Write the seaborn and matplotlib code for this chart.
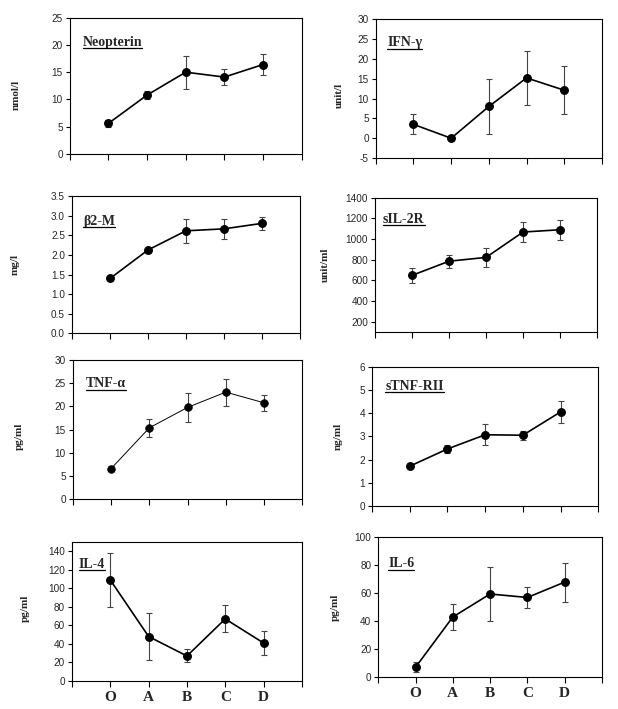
import numpy as np
import pandas as pd
import matplotlib
matplotlib.use("Agg")
import matplotlib.pyplot as plt
import seaborn as sns
from matplotlib.lines import Line2D

# Data (means and error bars)
groups = ['O', 'A', 'B', 'C', 'D']

neopterin = [5.6, 10.8, 15.0, 14.1, 16.4]
neopterin_err = [0.6, 0.7, 3.0, 1.4, 2.0]

ifn = [3.5, 0.0, 8.0, 15.2, 12.1]
ifn_err = [2.5, 0.0, 7.0, 6.8, 6.0]

b2m = [1.40, 2.13, 2.62, 2.67, 2.81]
b2m_err = [0.05, 0.08, 0.30, 0.26, 0.17]

sil2r = [648, 785, 822, 1068, 1090]
sil2r_err = [70, 62, 95, 96, 98]

tnfa = [6.6, 15.4, 19.8, 23.1, 20.8]
tnfa_err = [0.6, 1.9, 3.1, 2.9, 1.7]

stnfr = [1.72, 2.46, 3.07, 3.05, 4.05]
stnfr_err = [0.05, 0.18, 0.45, 0.20, 0.47]

il4 = [109, 48, 27, 67, 41]
il4_err = [29, 25, 7, 14.5, 13]

il6 = [7, 43, 59.5, 57, 68]
il6_err = [3.5, 9.5, 19.5, 7.5, 14]

sns.set_style("white")

fig = plt.figure(figsize=(6.18, 7.09), dpi=100)

# name, unit, values, errors, ylim, yticks, tick format, axes rect, label x/y, title x/y, line width
panels = [
    ('Neopterin', 'nmol/l', neopterin, neopterin_err, (0, 25), np.arange(0, 26, 5), '%d',
     [0.113, 0.783, 0.375, 0.192], (-0.23, 0.43), (0.055, 0.82), 1.2),
    ('IFN-γ', 'unit/l', ifn, ifn_err, (-5, 30), np.arange(-5, 31, 5), '%d',
     [0.608, 0.777, 0.366, 0.196], (-0.16, 0.45), (0.05, 0.83), 1.2),
    ('β2-M', 'mg/l', b2m, b2m_err, (0, 3.5), np.arange(0, 3.6, 0.5), '%.1f',
     [0.1165, 0.530, 0.369, 0.193], (-0.25, 0.5), (0.048, 0.82), 1.2),
    ('sIL-2R', 'unit/ml', sil2r, sil2r_err, (100, 1400), np.arange(200, 1401, 200), '%d',
     [0.607, 0.532, 0.359, 0.189], (-0.225, 0.5), (0.036, 0.84), 1.2),
    ('TNF-α', 'pg/ml', tnfa, tnfa_err, (0, 30), np.arange(0, 31, 5), '%d',
     [0.118, 0.296, 0.371, 0.196], (-0.236, 0.45), (0.057, 0.83), 0.7),
    ('sTNF-RII', 'ng/ml', stnfr, stnfr_err, (0, 6), np.arange(0, 7, 1), '%d',
     [0.602, 0.286, 0.366, 0.197], (-0.15, 0.5), (0.058, 0.86), 1.2),
    ('IL-4', 'pg/ml', il4, il4_err, (0, 150), np.arange(0, 141, 20), '%d',
     [0.1165, 0.0395, 0.372, 0.196], (-0.205, 0.52), (0.03, 0.84), 1.2),
    ('IL-6', 'pg/ml', il6, il6_err, (0, 100), np.arange(0, 101, 20), '%d',
     [0.612, 0.045, 0.362, 0.197], (-0.19, 0.5), (0.045, 0.81), 1.2),
]

titles = []
for i, (name, unit, vals, errs, ylim, yticks, fmt, rect, lab, tpos, lw) in enumerate(panels):
    ax = fig.add_axes(rect)
    df = pd.DataFrame({'group': groups, 'value': vals, 'err': errs})
    ax.errorbar(np.arange(len(groups)), df['value'], yerr=df['err'], fmt='none',
                ecolor='#444444', elinewidth=0.8, capsize=2.5, capthick=0.8, zorder=1)
    sns.pointplot(data=df, x='group', y='value', color='black', errorbar=None,
                  markers='o', markersize=5.5, linewidth=lw, ax=ax, zorder=3)

    ax.set_xlim(-1, 5)
    ax.set_ylim(*ylim)
    ax.set_yticks(yticks)
    ax.set_yticklabels([fmt % t for t in yticks], family='Liberation Sans', fontsize=7.2)
    ax.set_xticks(range(-1, 6))
    if i >= 6:
        ax.set_xticklabels([''] + groups + [''], family='Liberation Serif',
                           fontweight='bold', fontsize=11)
    else:
        ax.set_xticklabels([])
    ax.set_xlabel('')
    ax.set_ylabel(unit, family='Liberation Serif', fontweight='bold', fontsize=8)
    ax.yaxis.set_label_coords(*lab)
    ax.yaxis.label.set_verticalalignment('center')

    for s in ax.spines.values():
        s.set_visible(True)
        s.set_color('black')
        s.set_linewidth(0.8)
    ax.tick_params(axis='both', direction='out', length=3, width=0.8, color='black',
                   left=True, bottom=True, pad=2)
    ax.tick_params(axis='x', length=4, pad=3)

    t = ax.text(tpos[0], tpos[1], name, transform=ax.transAxes, family='Liberation Serif',
                fontweight='bold', fontsize=10, va='center', ha='left')
    titles.append(t)

# underline the panel titles
fig.canvas.draw()
renderer = fig.canvas.get_renderer()
inv = fig.transFigure.inverted()
for t in titles:
    bb = t.get_window_extent(renderer)
    (x0, y0), (x1, _) = inv.transform([[bb.x0, bb.y0], [bb.x1, bb.y1]])
    fig.add_artist(Line2D([x0, x1], [y0 + 0.001, y0 + 0.001], transform=fig.transFigure,
                          color='black', linewidth=0.9))

fig.savefig('out.png', dpi=100)
